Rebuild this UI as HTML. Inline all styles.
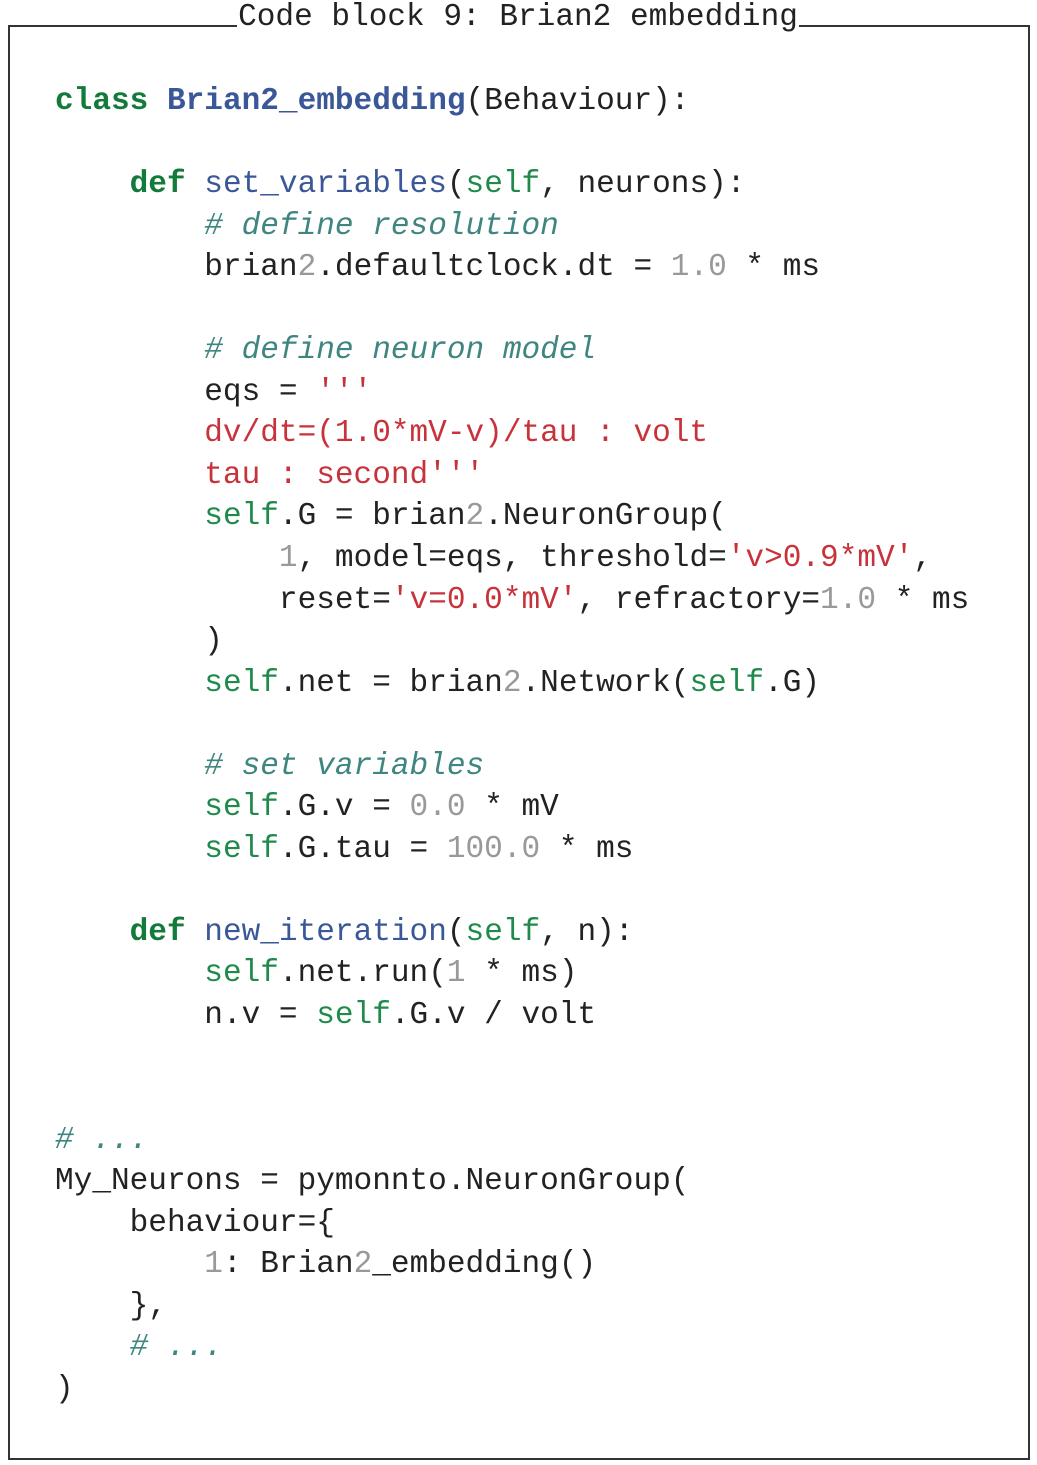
<!DOCTYPE html>
<html><head><meta charset="utf-8"><style>
body{margin:0;width:1037px;height:1465px;background:#fff;position:relative;overflow:hidden}
.frame{position:absolute;left:8px;top:25px;width:1018px;height:1431px;border:2px solid #333;border-top:2px solid #333}
.title{position:absolute;left:237px;top:2px;width:562px;height:32px;background:#fff;text-align:center;font:31.1px "Liberation Mono",monospace;color:#222;line-height:32px}
pre{position:absolute;left:55px;top:81px;margin:0;font:31.1px/41.55px "Liberation Mono",monospace;color:#222}
.k{color:#127a3a;font-weight:bold}.f{color:#3a5797}.fb{color:#3a5797;font-weight:bold}
.s{color:#1f8a4c}.c{color:#3f8580;font-style:italic}.r{color:#c8323a}.n{color:#999}
</style></head><body>
<div class="frame"></div>
<div class="title">Code block 9: Brian2 embedding</div>
<pre><span class="k">class</span> <span class="fb">Brian2_embedding</span>(Behaviour):

    <span class="k">def</span> <span class="f">set_variables</span>(<span class="s">self</span>, neurons):
        <span class="c"># define resolution</span>
        brian<span class="n">2</span>.defaultclock.dt = <span class="n">1.0</span> * ms

        <span class="c"># define neuron model</span>
        eqs = <span class="r">'''</span>
<span class="r">        dv/dt=(1.0*mV-v)/tau : volt</span>
<span class="r">        tau : second'''</span>
        <span class="s">self</span>.G = brian<span class="n">2</span>.NeuronGroup(
            <span class="n">1</span>, model=eqs, threshold=<span class="r">'v&gt;0.9*mV'</span>,
            reset=<span class="r">'v=0.0*mV'</span>, refractory=<span class="n">1.0</span> * ms
        )
        <span class="s">self</span>.net = brian<span class="n">2</span>.Network(<span class="s">self</span>.G)

        <span class="c"># set variables</span>
        <span class="s">self</span>.G.v = <span class="n">0.0</span> * mV
        <span class="s">self</span>.G.tau = <span class="n">100.0</span> * ms

    <span class="k">def</span> <span class="f">new_iteration</span>(<span class="s">self</span>, n):
        <span class="s">self</span>.net.run(<span class="n">1</span> * ms)
        n.v = <span class="s">self</span>.G.v / volt


<span class="c"># ...</span>
My_Neurons = pymonnto.NeuronGroup(
    behaviour={
        <span class="n">1</span>: Brian<span class="n">2</span>_embedding()
    },
    <span class="c"># ...</span>
)</pre>
</body></html>
